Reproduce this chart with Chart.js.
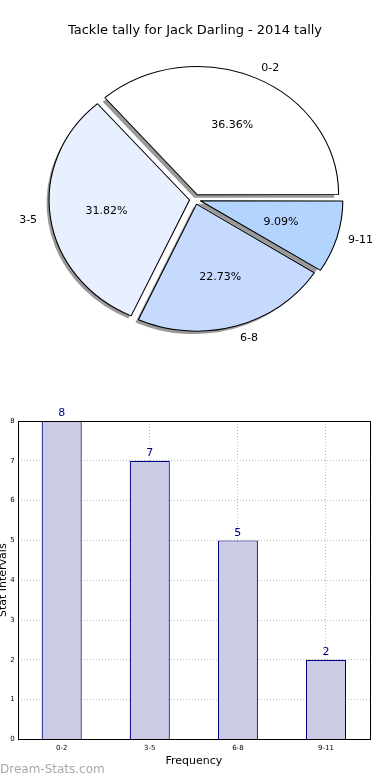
<!DOCTYPE html>
<html>
<head>
<meta charset="utf-8">
<script src="https://cdn.jsdelivr.net/npm/chart.js@4/dist/chart.umd.min.js"></script>
<style>
  html, body { margin: 0; padding: 0; background: #fff; }
  body { width: 390px; height: 780px; position: relative; overflow: hidden; font-family: "DejaVu Sans", sans-serif; }
  #pieWrap { position: absolute; left: 0; top: 0; width: 390px; height: 370px; }
  #barWrap { position: absolute; left: -3px; top: 400px; width: 393px; height: 380px; }
  #mark { position: absolute; left: 0; top: 762px; font-size: 12px; color: #a8a8a8; }
</style>
</head>
<body>
<div id="pieWrap"><canvas id="pieChart" width="390" height="370"></canvas></div>
<div id="barWrap"><canvas id="barChart" width="393" height="380"></canvas></div>
<div id="mark">Dream-Stats.com</div>
<script>
const intervals = ['0-2', '3-5', '6-8', '9-11'];
const tallies = [8, 7, 5, 2];
const sliceColors = ['#ffffff', '#e8f0ff', '#c6d9ff', '#b3d4ff'];
const yTicks = [0, 1, 2, 3, 4, 5, 6, 7, 8];

const total = tallies.reduce((a, b) => a + b, 0);
const stretchX = 140 / 127;
const explode = 5;

// matplotlib draws counter-clockwise from east, chart.js clockwise -> reverse
const pieLabels = intervals.slice().reverse();
const pieValues = tallies.slice().reverse();
const pieColors = sliceColors.slice().reverse();

const stretchPlugin = {
  id: 'stretch',
  beforeDatasetsDraw(chart) {
    const ctx = chart.ctx;
    const arcs = chart.getDatasetMeta(0).data;
    ctx.save();
    ctx.translate(arcs[0].x, 0);
    ctx.scale(stretchX, 1);
    ctx.translate(-arcs[0].x, 0);
    // shadows under every wedge
    ctx.fillStyle = 'rgba(0,0,0,0.4)';
    arcs.forEach(arc => {
      const mid = (arc.startAngle + arc.endAngle) / 2;
      const x = arc.x + Math.cos(mid) * explode - 3 / stretchX;
      const y = arc.y + Math.sin(mid) * explode + 3;
      ctx.beginPath();
      ctx.moveTo(x, y);
      ctx.arc(x, y, arc.outerRadius, arc.startAngle, arc.endAngle);
      ctx.closePath();
      ctx.fill();
    });
  },
  afterDatasetsDraw(chart) {
    const ctx = chart.ctx;
    ctx.restore();
    ctx.save();
    ctx.font = '11px "DejaVu Sans"';
    ctx.fillStyle = '#000';
    ctx.textBaseline = 'middle';
    chart.getDatasetMeta(0).data.forEach((arc, i) => {
      const mid = (arc.startAngle + arc.endAngle) / 2;
      const r = arc.outerRadius;
      const ox = Math.cos(mid) * explode;
      const oy = Math.sin(mid) * explode;
      ctx.textAlign = 'center';
      const pct = (pieValues[i] / total * 100).toFixed(2) + '%';
      ctx.fillText(pct, arc.x + (Math.cos(mid) * r * 0.6 + ox) * stretchX, arc.y + Math.sin(mid) * r * 0.6 + oy);
      const lx = arc.x + (Math.cos(mid) * r * 1.1 + ox) * stretchX;
      const ly = arc.y + Math.sin(mid) * r * 1.1 + oy;
      ctx.textAlign = Math.cos(mid) >= 0 ? 'left' : 'right';
      ctx.fillText(pieLabels[i], lx, ly);
    });
    ctx.restore();
  }
};

new Chart(document.getElementById('pieChart'), {
  type: 'pie',
  data: {
    labels: pieLabels,
    datasets: [{
      data: pieValues,
      backgroundColor: pieColors,
      borderColor: '#000',
      borderWidth: 1,
      offset: explode * 4
    }]
  },
  options: {
    responsive: false,
    animation: false,
    rotation: 90,
    radius: 127,
    layout: { padding: { top: 0, bottom: 20, left: 0, right: 0 } },
    plugins: {
      legend: { display: false },
      tooltip: { enabled: false },
      title: {
        display: true,
        text: 'Tackle tally for Jack Darling - 2014 tally',
        color: '#000',
        font: { family: '"DejaVu Sans"', size: 13, weight: 'normal' },
        padding: { top: 23, bottom: 10 }
      }
    }
  },
  plugins: [stretchPlugin]
});

const barValuePlugin = {
  id: 'barValues',
  afterDatasetsDraw(chart) {
    const ctx = chart.ctx;
    ctx.save();
    ctx.font = '11px "DejaVu Sans"';
    ctx.fillStyle = '#000080';
    ctx.textAlign = 'center';
    ctx.textBaseline = 'bottom';
    chart.getDatasetMeta(0).data.forEach((bar, i) => {
      ctx.fillText(String(tallies[i]), bar.x, bar.y - 2);
    });
    ctx.restore();
  }
};

const borderPlugin = {
  id: 'frame',
  afterDraw(chart) {
    const a = chart.chartArea;
    const ctx = chart.ctx;
    ctx.save();
    ctx.strokeStyle = '#000';
    ctx.lineWidth = 1;
    ctx.strokeRect(Math.round(a.left) + 0.5, Math.round(a.top) + 0.5, Math.round(a.width), Math.round(a.height));
    ctx.restore();
  }
};

new Chart(document.getElementById('barChart'), {
  type: 'bar',
  data: {
    labels: intervals,
    datasets: [{
      data: tallies,
      backgroundColor: '#cbcbe6',
      borderColor: '#000080',
      borderWidth: 1.2,
      barPercentage: 0.455,
      categoryPercentage: 1
    }]
  },
  options: {
    responsive: false,
    animation: false,
    layout: { padding: { top: 21, right: 20, bottom: 12, left: 0 } },
    plugins: {
      legend: { display: false },
      tooltip: { enabled: false }
    },
    scales: {
      x: {
        offset: true,
        grid: { color: '#bdbdbd', drawTicks: false, offset: false },
        border: { display: false, dash: [1, 2] },
        ticks: { color: '#000', font: { family: '"DejaVu Sans"', size: 7 }, padding: 5 },
        title: {
          display: true, text: 'Frequency', color: '#000',
          font: { family: '"DejaVu Sans"', size: 11 }, padding: { top: -3, bottom: 0 }
        }
      },
      y: {
        min: 0, max: 8,
        afterBuildTicks(axis) { axis.ticks = yTicks.map(v => ({ value: v })); },
        grid: { color: '#bdbdbd', drawTicks: false },
        border: { display: false, dash: [1, 2] },
        ticks: { color: '#000', font: { family: '"DejaVu Sans"', size: 7 }, padding: 3, autoSkip: false },
        title: {
          display: true, text: 'Stat Intervals', color: '#000',
          font: { family: '"DejaVu Sans"', size: 11 }, padding: { top: 0, bottom: -3 }
        }
      }
    }
  },
  plugins: [barValuePlugin, borderPlugin]
});
</script>
</body>
</html>
